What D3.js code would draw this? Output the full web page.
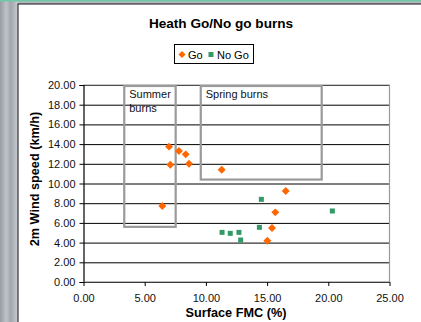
<!DOCTYPE html>
<html>
<head>
<meta charset="utf-8">
<script src="https://cdn.jsdelivr.net/npm/d3@7"></script>
<style>
  html, body { margin: 0; padding: 0; background: #fff; overflow: hidden; }
  svg { display: block; font-family: "Liberation Sans", Arial, sans-serif; }
</style>
</head>
<body>
<svg id="chart" width="421" height="322"></svg>
<script>
// data
var goFmc   = [6.99, 7.80, 8.35, 7.09, 8.62, 11.29, 6.44, 16.52, 15.67, 15.40, 15.02];
var goWind  = [13.74, 13.30, 12.96, 11.91, 12.01, 11.40, 7.72, 9.24, 7.07, 5.48, 4.19];
var noGoFmc  = [14.53, 20.33, 14.37, 11.32, 11.99, 12.70, 12.84];
var noGoWind = [8.39, 7.21, 5.55, 5.04, 4.94, 5.04, 4.26];

var xTicks = [0, 5, 10, 15, 20, 25];
var yTicks = [0, 2, 4, 6, 8, 10, 12, 14, 16, 18, 20];

// annotation boxes, in data units
var boxLabels = [["Summer", "burns"], ["Spring burns"]];
var boxX0 = [3.33, 9.58];
var boxX1 = [7.53, 19.46];
var boxY0 = [5.6, 10.4];
var boxY1 = [19.9, 19.9];

var svg = d3.select("#chart");
var fontFam = "'Liberation Sans', Arial, sans-serif";

// textured strip on the left and top, like the slide background
var defs = svg.append("defs");
var grad = defs.append("linearGradient").attr("id", "marble");
grad.append("stop").attr("offset", "0").attr("stop-color", "#979ca3");
grad.append("stop").attr("offset", "0.35").attr("stop-color", "#bfc3c8");
grad.append("stop").attr("offset", "0.6").attr("stop-color", "#a2a6ad");
grad.append("stop").attr("offset", "1").attr("stop-color", "#c9ccd1");

svg.append("rect").attr("x", 0).attr("y", 0).attr("width", 421).attr("height", 322)
  .attr("fill", "#b4b8be");
svg.append("rect").attr("x", 0).attr("y", 0).attr("width", 18).attr("height", 322)
  .attr("fill", "url(#marble)");
svg.append("rect").attr("x", 0).attr("y", 0).attr("width", 421).attr("height", 1.5)
  .attr("fill", "#6fc7a6");
svg.append("rect").attr("x", 18).attr("y", 4).attr("width", 410).attr("height", 330)
  .attr("fill", "#fff").attr("stroke", "#111").attr("stroke-width", 1);

// title
svg.append("text").attr("x", 221).attr("y", 28).attr("text-anchor", "middle")
  .style("font-family", fontFam)
  .style("font-size", "13.6px").style("font-weight", "bold")
  .text("Heath Go/No go burns");

// legend
var lg = svg.append("g").style("font-family", fontFam);
lg.append("rect").attr("x", 174.5).attr("y", 44.5).attr("width", 79).attr("height", 19)
  .attr("fill", "#fff").attr("stroke", "#000");
lg.append("path").attr("d", d3.symbol(d3.symbolDiamond2, 32)())
  .attr("transform", "translate(182,54.5)").attr("fill", "#ff6600");
lg.append("text").attr("x", 188).attr("y", 58.5).style("font-size", "11px").text("Go");
lg.append("rect").attr("x", 208.5).attr("y", 52).attr("width", 5).attr("height", 5)
  .attr("fill", "#339966");
lg.append("text").attr("x", 217).attr("y", 58.5).style("font-size", "11px").text("No Go");

// plot area
var plotLeft = 83.5, plotRight = 389.5, plotTop = 85, plotBottom = 282;
var x = d3.scaleLinear().domain([0, 25]).range([plotLeft, plotRight]);
var y = d3.scaleLinear().domain([0, 20]).range([plotBottom, plotTop]);
var fmt = d3.format(".2f");

// grid lines via the y axis
var grid = svg.append("g").attr("transform", "translate(" + plotLeft + ",0)")
  .call(d3.axisLeft(y).tickValues(yTicks).tickSize(-(plotRight - plotLeft)).tickFormat(""));
grid.select(".domain").remove();
grid.selectAll("line").attr("stroke", "#000").attr("stroke-width", 1);

// plot frame top/right
svg.append("path")
  .attr("d", "M" + plotLeft + "," + plotTop + "H" + plotRight + "V" + plotBottom)
  .attr("fill", "none").attr("stroke", "#999").attr("stroke-width", 1.2);

// annotation boxes
boxLabels.forEach(function(lines, i) {
  svg.append("rect")
    .attr("x", x(boxX0[i])).attr("y", y(boxY1[i]))
    .attr("width", x(boxX1[i]) - x(boxX0[i]))
    .attr("height", y(boxY0[i]) - y(boxY1[i]))
    .attr("fill", "none").attr("stroke", "#9a9a9a").attr("stroke-width", 2.2);
  lines.forEach(function(t, j) {
    svg.append("text")
      .attr("x", x(boxX0[i]) + 5).attr("y", y(boxY1[i]) + 12.5 + j * 14)
      .style("font-family", fontFam)
      .style("font-size", "11px").attr("fill", "#111").text(t);
  });
});

// axes
var yAxis = svg.append("g").attr("transform", "translate(" + plotLeft + ",0)")
  .call(d3.axisLeft(y).tickValues(yTicks).tickSize(4).tickPadding(4).tickFormat(fmt));
var xAxis = svg.append("g").attr("transform", "translate(0," + plotBottom + ")")
  .call(d3.axisBottom(x).tickValues(xTicks).tickSize(4).tickPadding(8).tickFormat(fmt));
[yAxis, xAxis].forEach(function(a) {
  a.attr("font-family", null);
  a.select(".domain").attr("stroke", "#000").attr("stroke-width", 1.2);
  a.selectAll("line").attr("stroke", "#000");
  a.selectAll("text").style("font-size", "11px").attr("fill", "#111")
    .style("font-family", fontFam);
});
xAxis.select(".domain").attr("d", "M" + plotLeft + ",0H" + plotRight).attr("stroke", "#777");

// axis titles
svg.append("text").attr("x", 236).attr("y", 317).attr("text-anchor", "middle")
  .style("font-family", fontFam)
  .style("font-size", "12.7px").style("font-weight", "bold").text("Surface FMC (%)");
svg.append("text").attr("transform", "translate(38.5,179) rotate(-90)")
  .attr("text-anchor", "middle")
  .style("font-family", fontFam)
  .style("font-size", "12.7px").style("font-weight", "bold").text("2m Wind speed (km/h)");

// points
var diamond = d3.symbol(d3.symbolDiamond2, 40);
svg.append("g").selectAll("path").data(d3.zip(goFmc, goWind)).enter().append("path")
  .attr("d", diamond)
  .attr("transform", function(d) { return "translate(" + x(d[0]) + "," + y(d[1]) + ")"; })
  .attr("fill", "#ff6600");

svg.append("g").selectAll("rect").data(d3.zip(noGoFmc, noGoWind)).enter().append("rect")
  .attr("x", function(d) { return x(d[0]) - 2.5; })
  .attr("y", function(d) { return y(d[1]) - 2.5; })
  .attr("width", 5).attr("height", 5)
  .attr("fill", "#339966");
</script>
</body>
</html>
